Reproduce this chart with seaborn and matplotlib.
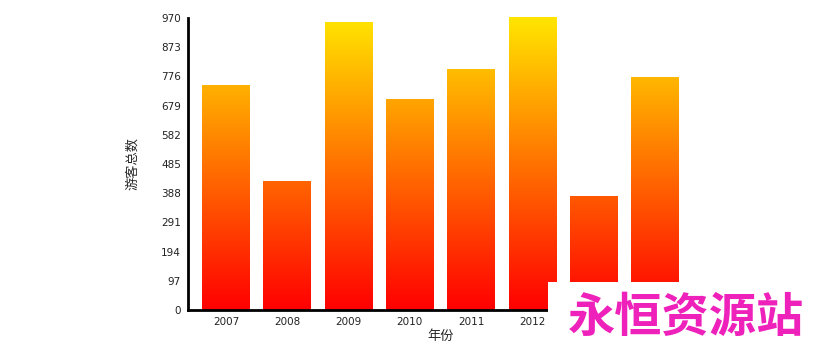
import numpy as np
import pandas as pd
import matplotlib
matplotlib.use("Agg")
import matplotlib.pyplot as plt
import seaborn as sns
from matplotlib.colors import LinearSegmentedColormap
from matplotlib.patches import Rectangle

years = ["2007", "2008", "2009", "2010", "2011", "2012", "2013", "2014"]
visitors = [747, 428, 958, 700, 799, 972, 379, 774]
y_ticks = [0, 97, 194, 291, 388, 485, 582, 679, 776, 873, 970]

sns.set_theme(style="white")
plt.rcParams['font.family'] = ['Noto Sans CJK SC', 'DejaVu Sans']

df = pd.DataFrame({"年份": years, "游客总数": visitors})

fig = plt.figure(figsize=(8.18, 3.52), dpi=100)
ax = fig.add_axes([188/818, 42/352, (693-188)/818, (310-18)/352])

sns.barplot(data=df, x="年份", y="游客总数", ax=ax, width=0.78, color="red",
            saturation=1)

cmap = LinearSegmentedColormap.from_list("ry", [(1, 0, 0), (1, 0.9, 0)])
grad = np.linspace(0, 1, 256).reshape(-1, 1)
for p in list(ax.patches):
    p.set_facecolor("none")
    p.set_edgecolor("none")
    im = ax.imshow(grad, cmap=cmap, aspect="auto", origin="lower",
                   extent=[-0.618, 7.618, 0, 970], zorder=2)
    im.set_clip_path(p)
ax.set_xlim(-0.618, 7.618)
ax.set_ylim(0, 970)

ax.set_yticks(y_ticks)
ax.set_yticklabels([str(v) for v in y_ticks], fontsize=7.5, family=['DejaVu Sans'])
ax.set_xticks(range(len(years)))
ax.set_xticklabels(years, fontsize=7.5, family=['DejaVu Sans'])
ax.tick_params(axis="both", length=0, pad=5, colors="#222222")
# the last two year labels are hidden under the watermark box in the reference
for lbl in ax.get_xticklabels()[6:]:
    lbl.set_visible(False)

for s in ["top", "right"]:
    ax.spines[s].set_visible(False)
for s in ["left", "bottom"]:
    ax.spines[s].set_color("black")
    ax.spines[s].set_linewidth(2)

ax.set_ylabel("游客总数", fontsize=9.5, labelpad=16)
ax.set_xlabel("年份", fontsize=9.5, labelpad=2)

# watermark
fig.patches.append(Rectangle((548/818, 0), 1 - 548/818, 70/352,
                             transform=fig.transFigure, facecolor="white",
                             edgecolor="none", zorder=10))
fig.text(686/818, 34/352, "永恒资源站", fontsize=34, fontweight="bold",
         color="#EE22BB", ha="center", va="center", zorder=11)

fig.savefig("out.png", dpi=100)
